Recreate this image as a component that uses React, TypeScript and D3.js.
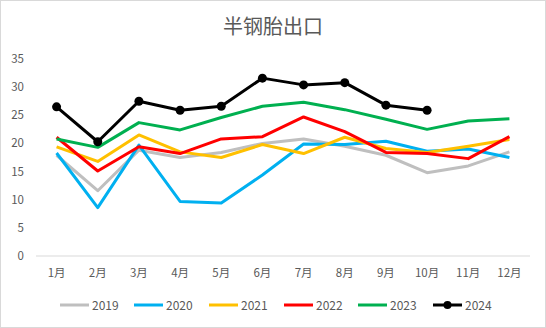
import React from "react";
import * as d3 from "d3";

const months = ["1月", "2月", "3月", "4月", "5月", "6月", "7月", "8月", "9月", "10月", "11月", "12月"];
const yTicks = [0, 5, 10, 15, 20, 25, 30, 35];

const s2019 = [17.9, 11.6, 18.8, 17.5, 18.4, 20.0, 20.8, 19.5, 17.9, 14.8, 16.0, 18.5];
const s2020 = [18.3, 8.6, 19.7, 9.7, 9.4, 14.4, 19.9, 19.8, 20.4, 18.6, 19.0, 17.5];
const s2021 = [19.4, 16.8, 21.5, 18.5, 17.5, 19.8, 18.2, 21.1, 19.1, 18.4, 19.5, 20.7];
const s2022 = [21.1, 15.1, 19.4, 18.2, 20.8, 21.2, 24.7, 22.1, 18.4, 18.2, 17.3, 21.2];
const s2023 = [20.8, 19.3, 23.7, 22.4, 24.6, 26.6, 27.3, 26.0, 24.3, 22.5, 24.0, 24.4];
const s2024 = [26.5, 20.3, 27.5, 25.9, 26.6, 31.6, 30.4, 30.8, 26.8, 25.9];

const seriesNames = ["2019", "2020", "2021", "2022", "2023", "2024"];
const seriesColors = ["#bfbfbf", "#00b0f0", "#ffc000", "#ff0000", "#00b050", "#000000"];
const seriesData = [s2019, s2020, s2021, s2022, s2023, s2024];

const W = 546;
const H = 328;
const FONT = "'Noto Sans CJK SC', 'Noto Sans', sans-serif";

export default function App() {
  const x = d3.scaleBand<string>().domain(months).range([36, 530]).padding(0);
  const y = d3.scaleLinear().domain([0, 35]).range([256, 59]);
  const cx = (m: string) => (x(m) as number) + x.bandwidth() / 2;

  const line = d3
    .line<number>()
    .x((_, i) => cx(months[i]))
    .y((d) => y(d));

  const legendX = [60, 134, 209, 284, 358, 433];

  return (
    <svg
      width={W}
      height={H}
      style={{ position: "absolute", left: 0, top: 0, background: "#fff" }}
      fontFamily={FONT}
    >
      <rect x={0.5} y={0.5} width={W - 1} height={H - 1} fill="#fff" stroke="#d9d9d9" />
      <text x={273} y={34} textAnchor="middle" fontSize={20} fill="#595959">
        半钢胎出口
      </text>
      {yTicks.map((t) => (
        <text key={t} x={24} y={y(t) + 4} textAnchor="end" fontSize={11.5} fill="#595959">
          {t}
        </text>
      ))}
      <line x1={36} x2={530} y1={y(0)} y2={y(0)} stroke="#d9d9d9" strokeWidth={1} />
      {months.map((m) => (
        <text key={m} x={cx(m)} y={277} textAnchor="middle" fontSize={11.5} fill="#595959">
          {m}
        </text>
      ))}
      {seriesData.map((d, si) => (
        <path
          key={seriesNames[si]}
          d={line(d) || ""}
          fill="none"
          stroke={seriesColors[si]}
          strokeWidth={3}
          strokeLinejoin="round"
        />
      ))}
      {s2024.map((v, i) => (
        <circle key={i} cx={cx(months[i])} cy={y(v)} r={4.5} fill="#000" />
      ))}
      {seriesNames.map((n, i) => (
        <g key={n} transform={`translate(${legendX[i]},305)`}>
          <line x1={0} x2={29} y1={0} y2={0} stroke={seriesColors[i]} strokeWidth={3} />
          {i === 5 && <circle cx={14.5} cy={0} r={4} fill="#000" />}
          <text x={32} y={4.5} fontSize={12} fill="#595959">
            {n}
          </text>
        </g>
      ))}
    </svg>
  );
}
